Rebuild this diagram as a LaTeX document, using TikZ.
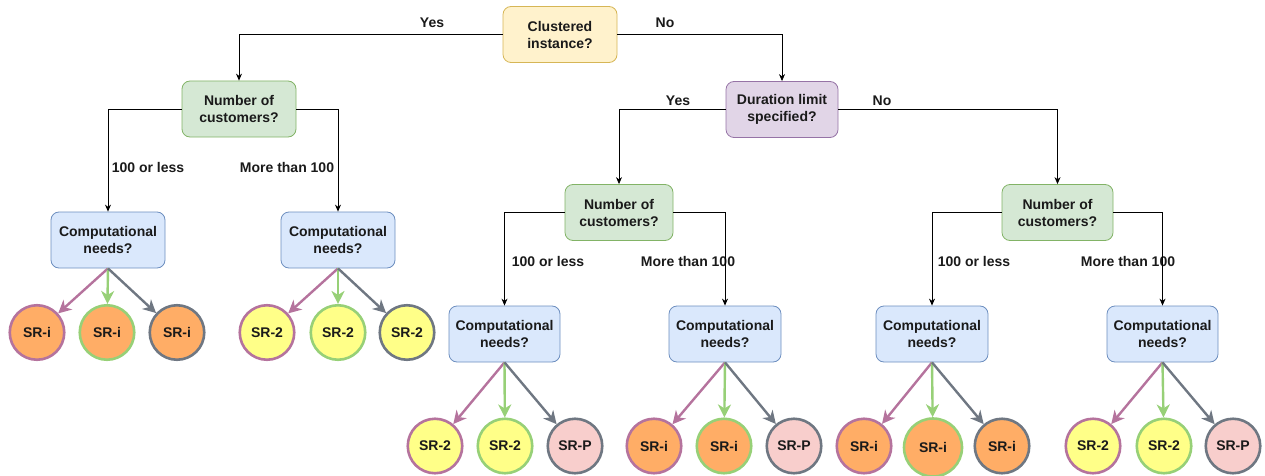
\documentclass[tikz,border=0pt]{standalone}
\usepackage{fontspec}
\setmainfont{Liberation Sans}
\usetikzlibrary{arrows.meta}
\definecolor{txt}{HTML}{1A1A1A}
\definecolor{yfill}{HTML}{FFF2CC}\definecolor{ydraw}{HTML}{D6B656}
\definecolor{gfill}{HTML}{D5E8D4}\definecolor{gdraw}{HTML}{82B366}
\definecolor{pfill}{HTML}{E1D5E7}\definecolor{pdraw}{HTML}{9673A6}
\definecolor{bfill}{HTML}{DAE8FC}\definecolor{bdraw}{HTML}{6C8EBF}
\definecolor{corange}{HTML}{FFAD66}
\definecolor{cyellow}{HTML}{FFFF88}
\definecolor{cpink}{HTML}{F8CECC}
\definecolor{epink}{HTML}{B5739D}
\definecolor{egreen}{HTML}{97D077}
\definecolor{egrey}{HTML}{6F7782}
\newcommand{\lblfont}{\fontsize{14}{17}\selectfont\bfseries}
\begin{document}
\begin{tikzpicture}[x=1pt,y=-1pt,
  box/.style={draw, rounded corners=8pt, minimum height=56pt, align=center, font=\lblfont, text=txt, inner sep=2pt, line width=0.8pt},
  qy/.style={box, fill=yfill, draw=ydraw, minimum width=114pt},
  qg/.style={box, fill=gfill, draw=gdraw},
  qp/.style={box, fill=pfill, draw=pdraw},
  qb/.style={box, fill=bfill, draw=bdraw},
  lab/.style={font=\lblfont, text=txt, inner sep=1pt},
  circ/.style={circle, minimum size=54.5pt, inner sep=0pt, line width=2.6pt, font=\lblfont, text=txt},
  sro/.style={circ, fill=corange},
  sry/.style={circ, fill=cyellow},
  srp/.style={circ, fill=cpink},
  bp/.style={draw=epink},
  bg/.style={draw=egreen},
  bk/.style={draw=egrey},
  arr/.style={draw=black, line width=0.8pt, -{Stealth[length=7pt,width=6pt]}},
  carr/.style={line width=2.4pt, -{Stealth[length=13pt,width=13pt,inset=4pt]}},
]
\useasboundingbox (0,0) rectangle (1265,476);

% decision nodes
\node[qy, minimum width=114pt] (cl) at (560,34.5) {Clustered\\instance?};
\node[qg, minimum width=114pt] (n1) at (239,109) {Number of\\customers?};
\node[qp, minimum width=112pt] (dl) at (782,109.5) {Duration limit\\specified?};
\node[qg, minimum width=108pt] (n2) at (619,212.5) {Number of\\customers?};
\node[qg, minimum width=111pt] (n3) at (1057.5,212.5) {Number of\\customers?};

\node[qb, minimum width=114pt] (c1) at (108,240) {Computational\\needs?};
\node[qb, minimum width=114pt] (c2) at (338,240) {Computational\\needs?};
\node[qb, minimum width=111pt] (c3) at (504.5,334) {Computational\\needs?};
\node[qb, minimum width=112pt] (c4) at (725,334) {Computational\\needs?};
\node[qb, minimum width=112pt] (c5) at (932,334) {Computational\\needs?};
\node[qb, minimum width=111pt] (c6) at (1162.5,334) {Computational\\needs?};

% labels
\node[lab] (l1) at (432,23) {Yes};
\node[lab] (l2) at (665,23) {No};
\node[lab] (l3) at (678,101) {Yes};
\node[lab] (l4) at (882,101) {No};
\node[lab] (l5) at (148,167) {100 or less};
\node[lab] (l6) at (287,167) {More than 100};
\node[lab] (l7) at (548,261) {100 or less};
\node[lab] (l8) at (688,261) {More than 100};
\node[lab] (l9) at (974,261) {100 or less};
\node[lab] (l10) at (1128,261) {More than 100};

% tree connectors
\draw[arr] (cl.west) -| (n1.north);
\draw[arr] (cl.east) -| (dl.north);
\draw[arr] (dl.west) -| (n2.north);
\draw[arr] (dl.east) -| (n3.north);
\draw[arr] (n1.west) -| (c1.north);
\draw[arr] (n1.east) -| (c2.north);
\draw[arr] (n2.west) -| (c3.north);
\draw[arr] (n2.east) -| (c4.north);
\draw[arr] (n3.west) -| (c5.north);
\draw[arr] (n3.east) -| (c6.north);

% leaves row 1
\node[sro, bp] (s11) at (37,332.5) {SR-i};
\node[sro, bg] (s12) at (107,332.5) {SR-i};
\node[sro, bk] (s13) at (177,332.5) {SR-i};
\node[sry, bp] (s21) at (267,332.5) {SR-2};
\node[sry, bg] (s22) at (338,332.5) {SR-2};
\node[sry, bk] (s23) at (407,332.5) {SR-2};
% leaves row 2
\node[sry, bp] (s31) at (435,446) {SR-2};
\node[sry, bg] (s32) at (505,446) {SR-2};
\node[srp, bk] (s33) at (575,446) {SR-P};
\node[sro, bp] (s41) at (654,446) {SR-i};
\node[sro, bg] (s42) at (724,446) {SR-i};
\node[srp, bk] (s43) at (794,446) {SR-P};
\node[sro, bp] (s51) at (864,446) {SR-i};
\node[sro, bg, minimum size=58pt] (s52) at (933,447.5) {SR-i};
\node[sro, bk] (s53) at (1002,446) {SR-i};
\node[sry, bp] (s61) at (1093,446) {SR-2};
\node[sry, bg] (s62) at (1164,446) {SR-2};
\node[srp, bk] (s63) at (1233,446) {SR-P};

% coloured arrows
\foreach \c/\a/\b/\d in {c1/s11/s12/s13, c2/s21/s22/s23, c3/s31/s32/s33, c4/s41/s42/s43, c5/s51/s52/s53, c6/s61/s62/s63}{
  \draw[carr, epink] (\c.south) -- (\a);
  \draw[carr, egreen] (\c.south) -- (\b);
  \draw[carr, egrey] (\c.south) -- (\d);
}
\end{tikzpicture}
\end{document}
